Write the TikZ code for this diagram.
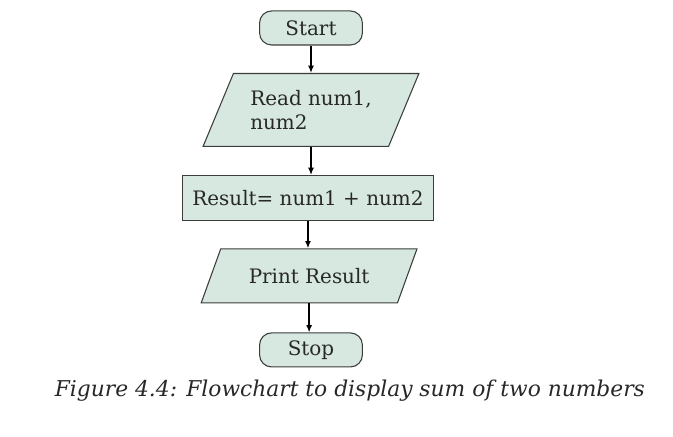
\documentclass[tikz,border=0pt]{standalone}
\usepackage{fontspec}
\setmainfont{DejaVu Serif}
\usepackage{xcolor}
\usepackage{tikz}
\usetikzlibrary{arrows.meta, positioning, shapes.geometric}
\definecolor{boxfill}{RGB}{214,232,224}
\definecolor{edge}{RGB}{60,60,60}
\definecolor{ink}{RGB}{40,40,40}

\begin{document}
\begin{tikzpicture}[
    terminal/.style={draw=edge, fill=boxfill, rounded corners=9pt, line width=0.8pt,
      minimum width=2.72cm, minimum height=0.9cm, inner sep=1pt, text=ink,
      font=\fontsize{15}{18}\selectfont},
    io/.style={draw=edge, fill=boxfill, trapezium, trapezium stretches=true,
      line width=0.8pt, minimum width=5.72cm, text=ink, inner sep=1pt,
      font=\fontsize{15}{18}\selectfont, align=left},
    process/.style={draw=edge, fill=boxfill, line width=0.8pt,
      minimum width=6.62cm, minimum height=1.19cm, inner sep=1pt, text=ink,
      font=\fontsize{15}{18}\selectfont},
    flow/.style={-{Latex[length=5.5pt,width=4.5pt]}, line width=1pt, black}]
  \useasboundingbox (-8.23,0.74) rectangle (9.58,-10.82);
  \node[terminal] (start) at (0,0) {Start};
  \node[io, trapezium left angle=60, trapezium right angle=120,
    minimum height=1.93cm] (read) at (0,-2.17) {Read num1,\\num2};
  \node[process] (sum) at (-0.08,-4.50) {Result= num1 + num2};
  \node[io, trapezium left angle=53, trapezium right angle=127,
    minimum height=1.43cm] (print) at (-0.05,-6.56) {Print Result};
  \node[terminal] (stop) at (0,-8.52) {Stop};
  \foreach \a/\b in {start/read, read/sum, sum/print, print/stop}
    \draw[flow] (\a.south) -- (\a.south |- \b.north);
  \node[text=ink, font=\fontsize{16.4}{19}\selectfont\itshape] (caption) at (1.03,-9.6)
    {Figure 4.4: Flowchart to display sum of two numbers};
\end{tikzpicture}
\end{document}
